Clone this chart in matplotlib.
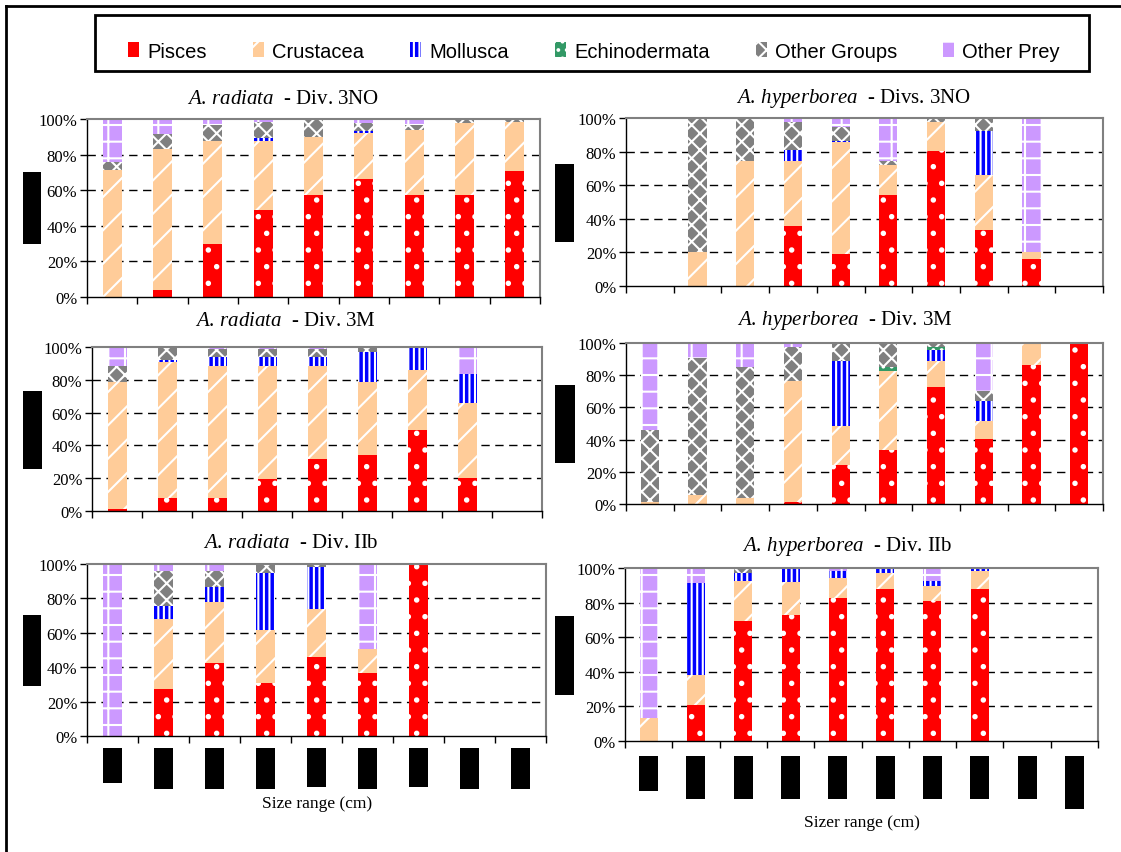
import matplotlib
matplotlib.use('Agg')
import matplotlib.pyplot as plt
from matplotlib.patches import Rectangle, Patch
from matplotlib.lines import Line2D
import numpy as np

plt.rcParams['font.family'] = ['Liberation Serif', 'DejaVu Serif']
plt.rcParams['mathtext.fontset'] = 'custom'
plt.rcParams['mathtext.rm'] = 'Liberation Serif'
plt.rcParams['mathtext.it'] = 'Liberation Serif:italic'
plt.rcParams['hatch.linewidth'] = 1.5

groups = ['Pisces', 'Crustacea', 'Mollusca', 'Echinodermata', 'Other Groups', 'Other Prey']
colors = ['#FF0000', '#FFCC99', '#0000FF', '#339966', '#808080', '#CC99FF']
hatches = ['.', '/', '|||', '..', 'xx', '+']

# diet composition (%) per size class, one row per prey group in `groups` order
rad_3no = [
    [0, 3.7, 29.5, 49.1, 57.5, 66.4, 57.5, 57.5, 70.9],
    [71.5, 79.5, 58.0, 38.6, 32.6, 26.0, 36.3, 40.3, 27.6],
    [0, 0, 0, 1.7, 0, 0.9, 0, 0, 0],
    [0, 0, 0, 0, 0, 0, 0, 0, 0],
    [4.5, 8.4, 9.1, 9.1, 9.9, 4.5, 2.8, 2.2, 1.5],
    [24.0, 8.4, 3.4, 1.5, 0, 2.2, 3.4, 0, 0],
]
hyp_3no = [
    [0, 0, 0, 35.6, 18.9, 54.1, 80.3, 33.2, 15.9, 0],
    [0, 20.5, 74.6, 39.0, 67.0, 18.1, 17.5, 32.8, 4.6, 0],
    [0, 0, 0, 6.3, 0.4, 0, 0, 26.4, 0, 0],
    [0, 0, 0, 0, 0, 0, 0, 0, 0, 0],
    [0, 79.5, 25.4, 16.5, 8.3, 2.4, 2.2, 7.6, 0, 0],
    [0, 0, 0, 2.6, 5.4, 25.4, 0, 0, 79.5, 0],
]
rad_3m = [
    [1.0, 8.1, 8.1, 19.7, 31.9, 34.3, 49.6, 20.3, 0],
    [77.5, 82.6, 80.1, 68.5, 56.3, 44.6, 36.6, 45.8, 0],
    [0, 1.4, 5.7, 5.7, 5.7, 17.8, 13.8, 17.4, 0],
    [0, 0, 0, 0, 0, 0, 0, 0, 0],
    [9.7, 7.9, 4.9, 4.9, 4.9, 3.3, 0, 0, 0],
    [11.8, 0, 1.2, 1.2, 1.2, 0, 0, 16.5, 0],
]
hyp_3m = [
    [0, 0, 0, 1.2, 24.2, 33.5, 72.7, 40.4, 86.3, 100],
    [1.2, 5.8, 3.7, 75.2, 24.2, 49.1, 16.1, 11.2, 13.7, 0],
    [0, 0, 0, 0, 40.4, 0, 7.1, 12.6, 0, 0],
    [0, 0, 0, 0, 0, 2.5, 1.6, 0, 0, 0],
    [45.0, 85.1, 81.4, 21.3, 11.2, 14.9, 2.5, 5.8, 0, 0],
    [53.8, 9.1, 14.9, 2.3, 0, 0, 0, 30.0, 0, 0],
]
rad_2b = [
    [0, 27.3, 42.4, 30.8, 45.9, 36.6, 100, 0, 0],
    [0, 40.5, 35.7, 30.8, 27.9, 14.2, 0, 0, 0],
    [0, 8.0, 8.7, 33.4, 24.6, 0, 0, 0, 0],
    [0, 0, 0, 0, 0, 0, 0, 0, 0],
    [0, 20.3, 9.3, 5.0, 1.6, 0, 0, 0, 0],
    [100, 3.9, 3.9, 0, 0, 49.2, 0, 0, 0],
]
hyp_2b = [
    [0, 20.6, 69.4, 72.6, 82.7, 87.9, 80.7, 87.9, 0, 0],
    [13.5, 17.4, 22.9, 19.1, 11.3, 9.0, 8.7, 10.4, 0, 0],
    [0, 53.3, 4.8, 8.3, 4.1, 3.1, 3.1, 1.7, 0, 0],
    [0, 0, 0, 0, 0, 0, 0, 0, 0, 0],
    [0, 0, 2.9, 0, 0, 0, 0, 0, 0, 0],
    [86.5, 8.7, 0, 0, 1.9, 0, 7.5, 0, 0, 0],
]

W, H = 1121, 853
fig = plt.figure(figsize=(W / 100, H / 100), dpi=100)


def fig_rect(x0, y0, x1, y1):
    return [x0 / W, 1 - y1 / H, (x1 - x0) / W, (y1 - y0) / H]


def black_box(x0, y0, x1, y1):
    fig.add_artist(Rectangle(fig_rect(x0, y0, x1, y1)[:2], (x1 - x0) / W, (y1 - y0) / H,
                             transform=fig.transFigure, facecolor='black',
                             edgecolor='none'))


def stacked(box, data, title, title_x, title_y):
    ax = fig.add_axes(fig_rect(*box))
    n = len(data[0])
    x = np.arange(n)
    bottom = np.zeros(n)
    for vals, c, h in zip(data, colors, hatches):
        vals = np.array(vals, dtype=float)
        ax.bar(x, vals, width=0.38, bottom=bottom, color=c, hatch=h,
               edgecolor='white', linewidth=0, zorder=2)
        bottom += vals
    for y in (20, 40, 60, 80):
        ax.axhline(y, color='black', lw=1, ls=(0, (6, 4)), zorder=1)
    ax.set_xlim(-0.5, n - 0.5)
    ax.set_ylim(0, 100)
    ax.set_yticks(range(0, 101, 20))
    ax.set_yticklabels([f'{v}%' for v in range(0, 101, 20)], fontsize=12)
    ax.set_xticks(np.arange(n + 1) - 0.5)
    ax.set_xticklabels([])
    ax.tick_params(axis='both', direction='out', length=5, width=1, color='black')
    ax.tick_params(axis='y', pad=2)
    for s in ('top', 'right'):
        ax.spines[s].set_color('#808080')
        ax.spines[s].set_linewidth(1.5)
    for s in ('left', 'bottom'):
        ax.spines[s].set_color('black')
        ax.spines[s].set_linewidth(1)
    fig.text(title_x / W, 1 - title_y / H, title, fontsize=15,
             ha='center', va='center')
    return ax


stacked((87, 120, 540, 298), rad_3no, r'$\it{A.\,radiata}$  - Div. 3NO', 283, 99)
stacked((626, 119, 1103, 287), hyp_3no, r'$\it{A.\,hyperborea}$  - Divs. 3NO', 854, 99)
stacked((92, 348, 542, 512), rad_3m, r'$\it{A.\,radiata}$  - Div. 3M', 285, 321)
stacked((626, 344, 1103, 505), hyp_3m, r'$\it{A.\,hyperborea}$  - Div. 3M', 845, 321)
stacked((87, 565, 546, 737), rad_2b, r'$\it{A.\,radiata}$  - Div. IIb', 291, 543)
stacked((625, 569, 1098, 742), hyp_2b, r'$\it{A.\,hyperborea}$  - Div. IIb', 847, 546)

# blacked-out y axis titles
for b in [(23, 173, 41, 245), (555, 165, 574, 243), (23, 392, 42, 470),
          (555, 386, 575, 464), (23, 616, 41, 687), (555, 617, 574, 696)]:
    black_box(*b)

# blacked-out size class labels under the bottom row
left_bottoms = [784, 790, 790, 790, 788, 790, 788, 790, 790]
right_bottoms = [792, 800, 800, 800, 800, 800, 800, 800, 800, 810]
for (x0, x1), top, bots in [((87, 546), 749, left_bottoms), ((625, 1098), 757, right_bottoms)]:
    cw = (x1 - x0) / len(bots)
    for i, b in enumerate(bots):
        cx = x0 + (i + 0.5) * cw
        black_box(cx - 9.5, top, cx + 9.5, b)

fig.text(317 / W, 1 - 804 / H, 'Size range (cm)', fontsize=12.5, ha='center', va='center')
fig.text(862 / W, 1 - 823 / H, 'Sizer range (cm)', fontsize=12.5, ha='center', va='center')

# legend with its own frame
fig.add_artist(Rectangle(fig_rect(95, 16, 1089, 72)[:2], (1089 - 95) / W, (72 - 16) / H,
                         transform=fig.transFigure, facecolor='none',
                         edgecolor='black', linewidth=2))
handles = [Patch(facecolor=c, hatch=h, edgecolor='white', linewidth=0)
           for c, h in zip(colors, hatches)]
fig.legend(handles, groups, loc='center', ncol=6, mode='expand',
           bbox_to_anchor=fig_rect(128, 30, 1060, 74), frameon=False,
           prop={'family': 'Liberation Sans', 'size': 14.5},
           handlelength=0.55, handleheight=0.75, handletextpad=0.4,
           borderpad=0, borderaxespad=0)

# outer frame lines
fig.add_artist(Line2D([6 / W, 6 / W], [0, 1 - 7 / H], transform=fig.transFigure,
                      color='black', lw=2))
fig.add_artist(Line2D([6 / W, 1], [1 - 7 / H, 1 - 7 / H], transform=fig.transFigure,
                      color='black', lw=2))

fig.savefig('out.png', dpi=100)
